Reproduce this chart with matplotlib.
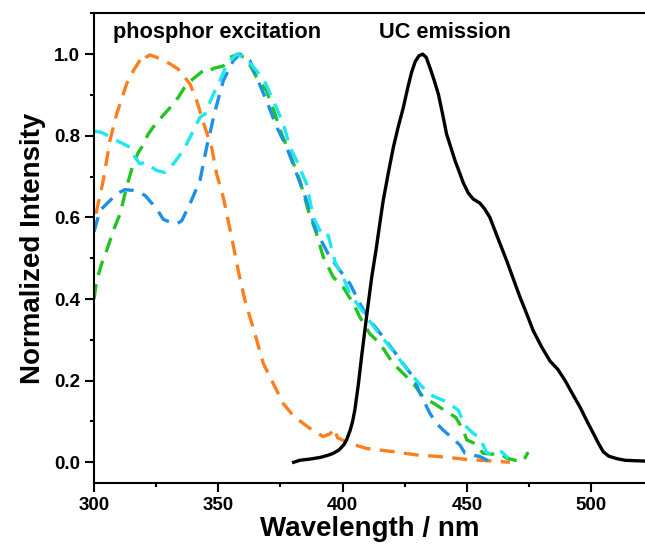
import matplotlib.pyplot as plt
from matplotlib.ticker import MultipleLocator

plt.rcParams["font.family"] = ["Liberation Sans", "DejaVu Sans"]
plt.rcParams["font.weight"] = "bold"

# UC emission (solid black)
uc_wl = [380.3, 382.8, 387.0, 391.0, 394.0, 396.2, 398.5, 400.5, 401.6, 403.0, 404.0,
         404.9, 406.3, 407.6, 409.6, 411.7, 413.4, 414.9, 416.3, 418.4, 420.4, 422.4,
         424.4, 426.2, 427.7, 429.2, 430.7, 432.2, 433.6, 435.1, 436.8, 438.5, 440.2,
         441.8, 443.6, 445.2, 447.0, 448.5, 450.5, 452.5, 455.2, 457.2, 459.2, 462.5,
         465.9, 468.6, 471.3, 474.0, 476.6, 480.0, 483.4, 486.5, 489.4, 492.4, 495.4,
         498.0, 500.8, 503.0, 504.8, 507.0, 510.2, 513.5, 516.9, 521.6]
uc_int = [0.0, 0.005, 0.008, 0.012, 0.017, 0.022, 0.030, 0.043, 0.055, 0.078, 0.100,
          0.128, 0.190, 0.258, 0.356, 0.454, 0.519, 0.583, 0.641, 0.710, 0.772, 0.823,
          0.869, 0.918, 0.955, 0.982, 0.996, 1.0, 0.992, 0.967, 0.936, 0.902, 0.853,
          0.804, 0.770, 0.739, 0.710, 0.685, 0.660, 0.645, 0.635, 0.620, 0.600, 0.548,
          0.495, 0.450, 0.405, 0.364, 0.323, 0.283, 0.248, 0.228, 0.201, 0.168, 0.136,
          0.104, 0.071, 0.045, 0.026, 0.015, 0.009, 0.005, 0.004, 0.003]

# phosphor excitation spectra (dashed)
orange_wl = [300.8, 303.7, 306.4, 309.1, 313.1, 315.8, 319.2, 320.5, 321.2, 322.5, 325.2,
             330.6, 333.9, 338.6, 341.3, 344.6, 347.3, 349.3, 352.0, 355.4, 358.0, 360.7,
             364.7, 368.1, 372.1, 376.1, 380.0, 384.2, 388.0, 392.2, 395.0, 396.5, 398.0,
             402.9, 409.6, 420.3, 429.7, 439.1, 449.9, 457.9, 467.3]
orange_int = [0.609, 0.690, 0.788, 0.853, 0.927, 0.959, 0.992, 1.0, 0.993, 0.998, 0.992,
              0.976, 0.963, 0.927, 0.886, 0.821, 0.772, 0.707, 0.649, 0.550, 0.470, 0.397,
              0.315, 0.242, 0.193, 0.144, 0.115, 0.095, 0.078, 0.063, 0.070, 0.083, 0.060,
              0.046, 0.034, 0.026, 0.018, 0.014, 0.007, 0.004, 0.0]

blue_wl = [300.0, 302.4, 306.4, 309.1, 312.5, 315.8, 317.8, 320.5, 325.2, 327.9, 330.0,
           333.3, 335.3, 338.6, 342.6, 345.3, 348.7, 352.0, 356.0, 358.7, 362.7, 365.4,
           369.4, 373.5, 377.5, 381.5, 385.5, 389.5, 394.5, 398.9, 402.9, 406.9, 410.9,
           416.3, 420.3, 424.3, 428.4, 431.1, 435.1, 437.8, 440.4, 444.0, 447.2, 449.2,
           452.0, 455.2, 458.5]
blue_int = [0.565, 0.617, 0.641, 0.658, 0.668, 0.666, 0.662, 0.654, 0.621, 0.595, 0.590,
            0.584, 0.592, 0.633, 0.690, 0.772, 0.861, 0.935, 0.984, 1.0, 0.984, 0.943,
            0.886, 0.821, 0.772, 0.707, 0.641, 0.565, 0.507, 0.470, 0.438, 0.389, 0.348,
            0.307, 0.275, 0.242, 0.209, 0.169, 0.120, 0.095, 0.079, 0.060, 0.042, 0.022,
            0.018, 0.014, 0.004]

cyan_wl = [300.0, 303.1, 305.7, 308.5, 314.5, 316.5, 318.5, 320.5, 323.2, 325.2, 328.5,
           331.9, 335.9, 338.6, 342.6, 344.6, 348.0, 350.7, 353.4, 357.4, 361.4, 365.4,
           368.8, 372.1, 376.1, 378.8, 381.5, 385.5, 388.2, 392.2, 394.2, 397.0, 400.2,
           402.9, 408.0, 414.0, 420.0, 427.1, 432.0, 436.4, 441.1, 446.5, 449.2, 452.5,
           455.2, 457.9, 460.5, 461.9, 463.9, 466.6]
cyan_int = [0.812, 0.808, 0.800, 0.790, 0.772, 0.747, 0.731, 0.735, 0.723, 0.715, 0.710,
            0.731, 0.764, 0.796, 0.845, 0.853, 0.902, 0.935, 0.976, 1.0, 0.988, 0.959,
            0.931, 0.886, 0.830, 0.772, 0.739, 0.682, 0.600, 0.552, 0.556, 0.490, 0.454,
            0.413, 0.370, 0.320, 0.275, 0.218, 0.185, 0.162, 0.150, 0.128, 0.090, 0.071,
            0.059, 0.024, 0.020, 0.022, 0.026, 0.010]

green_wl = [300.0, 301.1, 303.1, 305.1, 307.8, 310.5, 313.1, 315.8, 317.8, 319.2, 321.8,
            323.8, 326.5, 330.6, 333.9, 337.3, 339.0, 342.0, 344.6, 346.6, 348.0, 352.0,
            354.7, 358.0, 361.4, 365.4, 369.4, 372.8, 375.5, 378.8, 382.8, 386.2, 389.5,
            392.2, 396.2, 400.2, 404.3, 406.9, 410.9, 415.0, 420.3, 423.0, 428.4, 432.4,
            437.8, 441.8, 445.5, 448.5, 449.9, 453.2, 456.5, 460.0, 463.2, 466.0, 470.0,
            472.6, 474.6]
green_int = [0.400, 0.446, 0.487, 0.519, 0.568, 0.609, 0.674, 0.731, 0.759, 0.772, 0.804,
             0.821, 0.841, 0.869, 0.894, 0.927, 0.935, 0.950, 0.963, 0.959, 0.965, 0.971,
             0.992, 1.0, 0.988, 0.943, 0.910, 0.853, 0.804, 0.755, 0.690, 0.617, 0.560,
             0.503, 0.454, 0.429, 0.389, 0.356, 0.315, 0.291, 0.242, 0.226, 0.193, 0.160,
             0.140, 0.124, 0.110, 0.079, 0.055, 0.046, 0.022, 0.020, 0.022, 0.010, 0.004,
             0.002, 0.025]

fig = plt.figure(figsize=(6.45, 5.53), dpi=100)
ax = fig.add_axes([94 / 645, 70.3 / 553, 551 / 645, 469.4 / 553])

dash = (4.5, 2.8)
ax.plot(orange_wl, orange_int, color="#FF7F1E", lw=2.4, dashes=dash)
ax.plot(green_wl, green_int, color="#22C322", lw=2.4, dashes=dash)
ax.plot(blue_wl, blue_int, color="#1E90E6", lw=2.4, dashes=dash)
ax.plot(cyan_wl, cyan_int, color="#20E6F0", lw=2.4, dashes=dash)
ax.plot(uc_wl, uc_int, color="black", lw=2.4)

ax.set_xlim(300, 521.6)
ax.set_ylim(-0.05, 1.1)
ax.xaxis.set_major_locator(MultipleLocator(50))
ax.xaxis.set_minor_locator(MultipleLocator(25))
ax.yaxis.set_major_locator(MultipleLocator(0.2))
ax.yaxis.set_minor_locator(MultipleLocator(0.1))
ax.yaxis.set_major_formatter(plt.FormatStrFormatter("%.1f"))

ax.spines["right"].set_visible(False)
for s in ["left", "bottom", "top"]:
    ax.spines[s].set_linewidth(1.5)
ax.tick_params(which="major", length=6.5, width=1.5, labelsize=13.5)
ax.tick_params(which="minor", length=3.2, width=1.5)

ax.set_xlabel("Wavelength / nm", fontsize=20, fontweight="bold", labelpad=2)
ax.set_ylabel("Normalized Intensity", fontsize=20, fontweight="bold", labelpad=6)

ax.text(349.5, 1.04, "phosphor excitation", ha="center", va="baseline",
        fontsize=15.7, fontweight="bold")
ax.text(441, 1.04, "UC emission", ha="center", va="baseline",
        fontsize=15.7, fontweight="bold")

fig.savefig("out.png", dpi=100)
